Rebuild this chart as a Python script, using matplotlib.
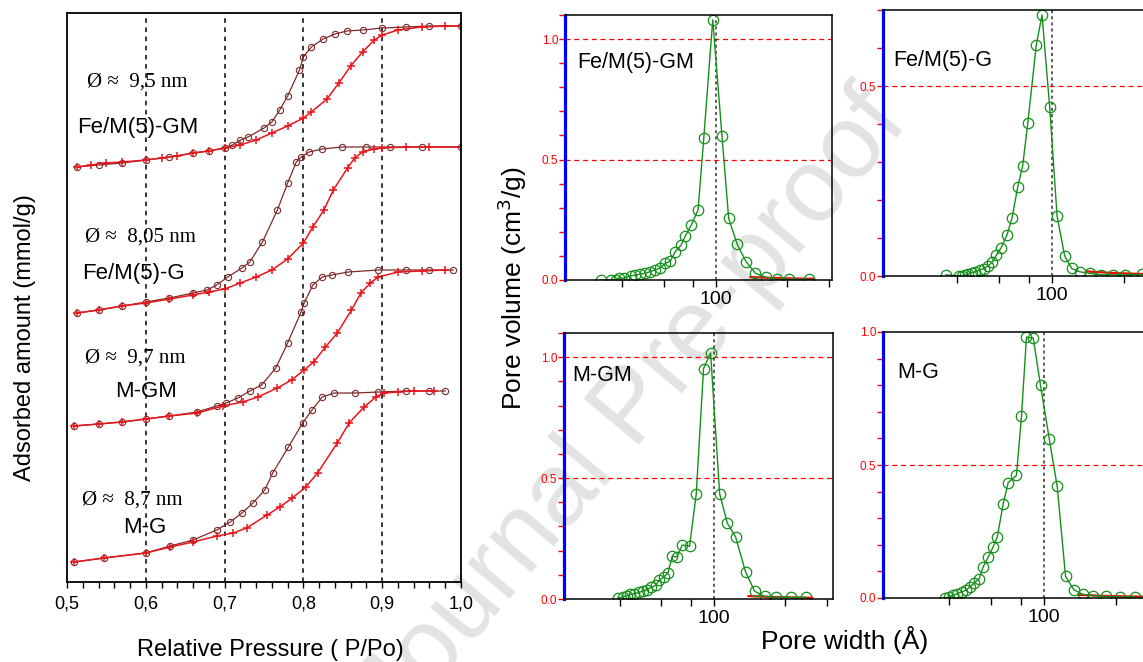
import matplotlib
matplotlib.use("Agg")
import matplotlib.pyplot as plt
from matplotlib.ticker import FixedLocator, MultipleLocator, NullLocator

plt.rcParams["font.family"] = ["Liberation Sans", "DejaVu Sans"]

W, H = 1143, 662

# -----------------------------
# Isotherms (relative pressure, adsorbed amount in arbitrary units)
# -----------------------------

GM_FE_ADS_P = [0.513, 0.53, 0.55, 0.57, 0.60, 0.62, 0.64, 0.66, 0.68, 0.70, 0.72, 0.74, 0.76,
               0.78, 0.80, 0.81, 0.83, 0.845, 0.86, 0.875, 0.89, 0.90, 0.92, 0.95, 0.98, 1.0]
GM_FE_ADS_Q = [415, 417, 419, 420, 422, 424, 426, 429, 431, 434, 437, 442, 449,
               456, 464, 470, 483, 499, 516, 530, 542, 547, 552, 555, 556, 556]
GM_FE_DES_P = [0.513, 0.54, 0.57, 0.60, 0.63, 0.66, 0.68, 0.70, 0.71, 0.72, 0.73, 0.75, 0.76,
               0.77, 0.78, 0.795, 0.80, 0.81, 0.825, 0.84, 0.855, 0.875, 0.90, 0.93, 0.96, 1.0]
GM_FE_DES_Q = [415, 417, 419, 422, 425, 429, 431, 434, 437, 442, 445, 454, 460,
               472, 486, 512, 525, 535, 543, 548, 551, 552, 554, 555, 556, 556]

G_FE_ADS_P = [0.513, 0.54, 0.57, 0.60, 0.63, 0.66, 0.68, 0.70, 0.72, 0.74, 0.76, 0.78, 0.80,
              0.812, 0.826, 0.838, 0.856, 0.865, 0.875, 0.89, 0.90, 0.93, 0.96, 1.0]
G_FE_ADS_Q = [269, 272, 276, 279, 283, 287, 290, 293, 299, 305, 312, 323, 339,
              355, 372, 392, 414, 424, 430, 433, 434, 435, 435, 435]
G_FE_DES_P = [0.513, 0.54, 0.57, 0.60, 0.63, 0.66, 0.678, 0.69, 0.704, 0.722, 0.732, 0.748,
              0.767, 0.78, 0.791, 0.797, 0.807, 0.824, 0.849, 0.88, 0.91, 0.95, 1.0]
G_FE_DES_Q = [269, 272, 276, 280, 284, 289, 292, 297, 305, 314, 320, 340,
              372, 399, 420, 425, 430, 433, 435, 435, 435, 435, 435]

GM_ADS_P = [0.509, 0.54, 0.57, 0.60, 0.63, 0.665, 0.698, 0.723, 0.742, 0.767, 0.785, 0.801,
            0.813, 0.828, 0.843, 0.861, 0.873, 0.885, 0.895, 0.92, 0.95, 0.98]
GM_ADS_Q = [156, 158, 160, 163, 166, 169, 176, 180, 185, 194, 202, 212,
            220, 235, 249, 272, 289, 299, 305, 310, 311, 312]
GM_DES_P = [0.509, 0.54, 0.57, 0.60, 0.63, 0.665, 0.69, 0.702, 0.717, 0.732, 0.747, 0.765,
            0.78, 0.797, 0.801, 0.812, 0.824, 0.836, 0.857, 0.895, 0.93, 0.96, 0.99]
GM_DES_Q = [156, 158, 160, 163, 166, 170, 176, 179, 184, 191, 197, 214,
            239, 270, 279, 297, 305, 307, 310, 312, 312, 312, 312]

G_ADS_P = [0.509, 0.547, 0.60, 0.631, 0.66, 0.69, 0.711, 0.728, 0.754, 0.77, 0.786, 0.803,
           0.818, 0.843, 0.858, 0.877, 0.892, 0.902, 0.92, 0.94, 0.966]
G_ADS_Q = [20, 24, 29, 35, 40, 46, 49, 54, 67, 75, 84, 95,
           109, 139, 159, 175, 185, 189, 190, 191, 191]
G_DES_P = [0.509, 0.547, 0.60, 0.631, 0.66, 0.69, 0.707, 0.722, 0.736, 0.751, 0.761, 0.781,
           0.799, 0.811, 0.824, 0.839, 0.866, 0.895, 0.93, 0.96, 0.98]
G_DES_Q = [20, 24, 29, 36, 42, 52, 60, 69, 79, 92, 109, 135,
           159, 172, 185, 189, 189, 190, 191, 191, 191]

PRESSURE_TICKS = [0.5, 0.6, 0.7, 0.8, 0.9, 1.0]
PRESSURE_LABELS = ["0,5", "0,6", "0,7", "0,8", "0,9", "1,0"]
GUIDE_LINES = [0.6, 0.7, 0.8, 0.9]

# (text, x, y) in axes fraction
DIAMETER_NOTES = [("Ø ≈  9,5 nm", 0.051, 0.879), ("Ø ≈  8,05 nm", 0.046, 0.606),
                  ("Ø ≈  9,7 nm", 0.046, 0.394), ("Ø ≈  8,7 nm", 0.038, 0.144)]
SAMPLE_NOTES = [("Fe/M(5)-GM", 0.025, 0.798), ("Fe/M(5)-G", 0.038, 0.543),
                ("M-GM", 0.122, 0.334), ("M-G", 0.142, 0.095)]

# -----------------------------
# Pore size distributions (width in Angstrom, volume in cm3/g)
# -----------------------------

PSD_GM_FE_W = [32.4, 35.9, 37.8, 38.9, 40.6, 43.4, 45.5, 47.8, 50.2, 52.7, 55.3, 58.1, 61.0,
               64.0, 67.3, 71.1, 74.1, 78.6, 83.9, 88.7, 96.8, 106.0, 113.1, 122.7, 134.0,
               146.8, 163.4, 181.0, 203.0, 247.0]
PSD_GM_FE_V = [0.0, 0.0, 0.002, 0.01, 0.007, 0.017, 0.02, 0.025, 0.028, 0.035, 0.042, 0.051,
               0.069, 0.079, 0.118, 0.145, 0.183, 0.229, 0.291, 0.589, 1.08, 0.596, 0.256,
               0.15, 0.076, 0.028, 0.011, 0.003, 0.003, 0.003]

PSD_G_FE_W = [35.9, 40.8, 41.9, 43.0, 44.4, 46.1, 47.6, 49.7, 51.6, 53.8, 56.0, 58.3, 61.2,
              64.7, 67.9, 71.8, 75.3, 79.1, 85.9, 90.8, 97.8, 105.0, 113.0, 121.0, 131.0,
              144.0, 161.0, 180.0, 203.0, 239.0]
PSD_G_FE_V = [0.003, 0.0, 0.0, 0.002, 0.005, 0.009, 0.011, 0.016, 0.019, 0.026, 0.036, 0.054,
              0.075, 0.108, 0.152, 0.235, 0.29, 0.402, 0.608, 0.687, 0.444, 0.158, 0.053,
              0.02, 0.011, 0.007, 0.003, 0.003, 0.003, 0.004]

PSD_GM_W = [39.4, 41.3, 43.0, 44.4, 46.2, 48.3, 50.1, 52.1, 54.4, 56.8, 58.6, 61.3, 64.0,
            66.7, 69.8, 73.5, 78.9, 84.2, 90.4, 96.8, 105.7, 113.8, 123.4, 136.0, 148.5,
            163.6, 183.0, 212.0, 244.0]
PSD_GM_V = [0.004, 0.008, 0.014, 0.019, 0.022, 0.028, 0.032, 0.039, 0.048, 0.057, 0.077,
            0.09, 0.108, 0.177, 0.174, 0.223, 0.218, 0.433, 0.953, 1.018, 0.436, 0.314,
            0.257, 0.112, 0.032, 0.011, 0.007, 0.007, 0.007]

PSD_G_W = [38.4, 40.0, 41.6, 43.2, 45.1, 47.0, 48.9, 50.9, 53.5, 55.6, 58.4, 61.2, 63.7,
           67.5, 70.8, 76.7, 80.5, 84.5, 90.2, 96.8, 105.3, 113.7, 123.3, 133.6, 145.4,
           161.0, 182.0, 209.0, 241.0]
PSD_G_V = [0.0, 0.004, 0.01, 0.016, 0.023, 0.029, 0.041, 0.056, 0.073, 0.117, 0.154, 0.192,
           0.229, 0.355, 0.434, 0.461, 0.683, 0.981, 0.977, 0.799, 0.599, 0.42, 0.081,
           0.031, 0.014, 0.009, 0.006, 0.004, 0.004]

# red tail of the second curve, mostly hidden under the green one
TAIL_W = [140, 180, 220, 260]
TAIL_V = [0.012, 0.008, 0.006, 0.005]

WIDTH_TICKS = [40, 60, 80, 100, 200, 300]

ADS_RED = "#e8151b"
DES_BROWN = "#7d2a2a"
PSD_GREEN = "#14901a"


def px_box(left, top, right, bottom):
    return [left / W, 1 - bottom / H, (right - left) / W, (bottom - top) / H]


fig = plt.figure(figsize=(W / 100, H / 100), dpi=100)

fig.text(634 / W, 1 - 410 / H, "Journal Pre-proof", rotation=50, rotation_mode="anchor",
         fontsize=74, color="#e3e3e3", ha="center", va="center", zorder=-1)

# -----------------------------
# Left: isotherms
# -----------------------------

ax = fig.add_axes(px_box(67, 13, 461, 582))
ax.set_facecolor("none")
ax.set_xlim(0.5, 1.0)
ax.set_ylim(0, 569)
ax.set_yticks([])
ax.set_xticks(PRESSURE_TICKS)
ax.set_xticklabels(PRESSURE_LABELS, fontsize=13)
ax.xaxis.set_minor_locator(MultipleLocator(0.02))
ax.tick_params(axis="x", which="both", direction="out", length=4, width=1, pad=6)
for side in ax.spines.values():
    side.set_linewidth(1.3)

for p in GUIDE_LINES:
    ax.axvline(p, color="black", ls=(0, (3, 3)), lw=1.1)

isotherms = [
    (GM_FE_ADS_P, GM_FE_ADS_Q, GM_FE_DES_P, GM_FE_DES_Q),
    (G_FE_ADS_P, G_FE_ADS_Q, G_FE_DES_P, G_FE_DES_Q),
    (GM_ADS_P, GM_ADS_Q, GM_DES_P, GM_DES_Q),
    (G_ADS_P, G_ADS_Q, G_DES_P, G_DES_Q),
]
for ads_p, ads_q, des_p, des_q in isotherms:
    ax.plot(des_p, des_q, color=DES_BROWN, lw=0.9, marker="o", ms=4.5, mfc="none", mew=0.8)
    ax.plot(ads_p, ads_q, color=ADS_RED, lw=1.1, marker="+", ms=5.5, mew=1.1)

for text, x, y in DIAMETER_NOTES:
    ax.text(x, y, text, transform=ax.transAxes, fontsize=15, va="center",
            family=["Liberation Serif", "DejaVu Serif"])
for text, x, y in SAMPLE_NOTES:
    ax.text(x, y, text, transform=ax.transAxes, fontsize=16, va="center")

ax.set_xlabel("Relative Pressure ( P/Po)", fontsize=17)
ax.xaxis.set_label_coords(0.515, -0.119)
ax.xaxis.label.set_verticalalignment("center")
ax.set_ylabel("Adsorbed amount (mmol/g)", fontsize=17)
ax.yaxis.set_label_coords(-0.107, 0.43)
ax.yaxis.label.set_verticalalignment("center")

# -----------------------------
# Right: pore size distributions
# -----------------------------

panels = [
    (px_box(565, 15, 832, 280), (22.9, 310), 1.10, "Fe/M(5)-GM", (0.045, 0.819), PSD_GM_FE_W, PSD_GM_FE_V),
    (px_box(883, 10, 1150, 276), (19.5, 258), 0.70, "Fe/M(5)-G", (0.037, 0.812), PSD_G_FE_W, PSD_G_FE_V),
    (px_box(564, 333, 833, 599), (23.3, 318), 1.10, "M-GM", (0.030, 0.842), PSD_GM_W, PSD_GM_V),
    (px_box(883, 332, 1150, 598), (21.1, 279), 1.00, "M-G", (0.052, 0.846), PSD_G_W, PSD_G_V),
]

for box, xlim, ytop, name, (tx, ty), widths, volumes in panels:
    pax = fig.add_axes(box)
    pax.set_facecolor("none")
    pax.set_xscale("log")
    pax.set_xlim(*xlim)
    pax.set_ylim(0, ytop)

    pax.xaxis.set_major_locator(FixedLocator(WIDTH_TICKS))
    pax.xaxis.set_minor_locator(NullLocator())
    pax.set_xticklabels(["100" if w == 100 else "" for w in WIDTH_TICKS], fontsize=14)
    pax.tick_params(axis="x", direction="out", length=5, width=1, pad=3)

    pax.set_yticks([v for v in [0.0, 0.5, 1.0] if v <= ytop + 1e-9])
    pax.yaxis.set_major_formatter("{x:.1f}")
    pax.yaxis.set_minor_locator(MultipleLocator(0.1))
    pax.tick_params(axis="y", which="both", direction="out", length=4, width=1,
                    color="red", labelcolor="red", labelsize=8.5, pad=1)

    for side in ["top", "right", "bottom"]:
        pax.spines[side].set_linewidth(1.1)
    pax.spines["left"].set_color("blue")
    pax.spines["left"].set_linewidth(2.3)

    for level in [0.5, 1.0]:
        if level < ytop - 1e-9:
            pax.axhline(level, color="red", ls=(0, (4, 3)), lw=0.9)
    pax.axvline(100, color="#333333", ls=(0, (2, 2)), lw=1.1)

    pax.plot(TAIL_W, TAIL_V, color="red", lw=1.6)
    pax.plot(widths, volumes, color=PSD_GREEN, lw=1.0, marker="o", ms=7.5, mfc="none", mew=0.9)

    pax.text(tx, ty, name, transform=pax.transAxes, fontsize=15.5, va="center")

fig.text(512 / W, 1 - 288 / H, "Pore volume (cm$^3$/g)", rotation=90, fontsize=19,
         ha="center", va="center")
fig.text(845 / W, 1 - 640 / H, "Pore width (Å)", fontsize=19, ha="center", va="center")

fig.savefig("out.png", dpi=100)
